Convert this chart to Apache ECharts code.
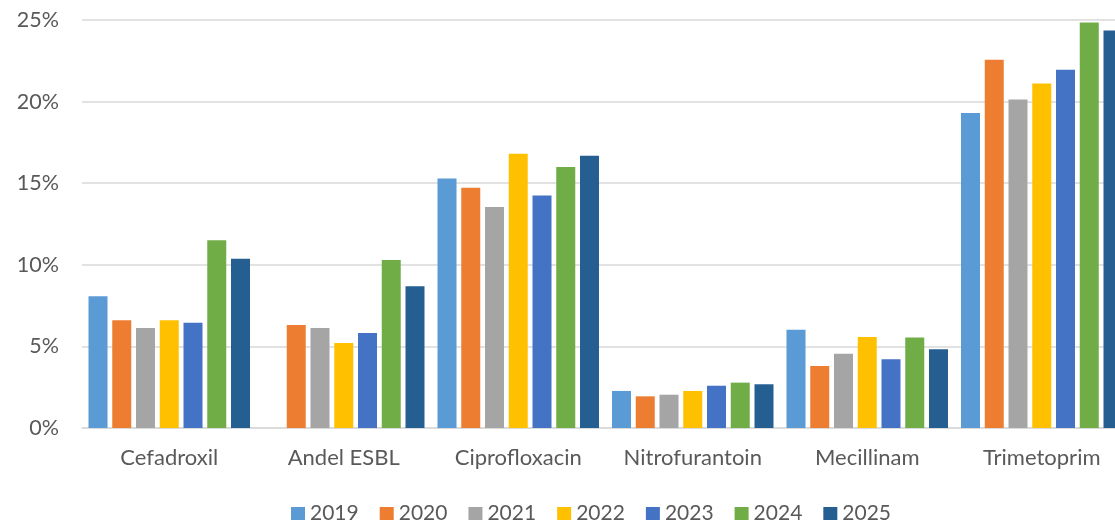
<!DOCTYPE html>
<html>
<head>
<meta charset="utf-8">
<script src="https://cdn.jsdelivr.net/npm/echarts@6/dist/echarts.min.js"></script>
<style>
html,body{margin:0;padding:0;background:#fff;overflow:hidden;}
#chart{width:1140px;height:523px;}
</style>
</head>
<body>
<div id="chart"></div>
<script>
const categories = ['Cefadroxil', 'Andel ESBL', 'Ciprofloxacin', 'Nitrofurantoin', 'Mecillinam', 'Trimetoprim'];
const years = ['2019', '2020', '2021', '2022', '2023', '2024', '2025'];
const v2019 = [8.07, null, 15.29, 2.27, 6.02, 19.30];
const v2020 = [6.60, 6.31, 14.72, 1.94, 3.80, 22.56];
const v2021 = [6.13, 6.13, 13.54, 2.04, 4.55, 20.13];
const v2022 = [6.60, 5.21, 16.81, 2.27, 5.57, 21.11];
const v2023 = [6.45, 5.82, 14.25, 2.59, 4.21, 21.95];
const v2024 = [11.50, 10.29, 15.99, 2.78, 5.55, 24.85];
const v2025 = [10.37, 8.68, 16.68, 2.68, 4.82, 24.36];
const yTicks = [0, 5, 10, 15, 20, 25];
const colors = ['#5B9BD5', '#ED7D31', '#A5A5A5', '#FFC000', '#4472C4', '#70AD47', '#255E91'];
const seriesValues = [v2019, v2020, v2021, v2022, v2023, v2024, v2025];

const font = 'Lato, "Open Sans", sans-serif';
const chart = echarts.init(document.getElementById('chart'), null, {renderer: 'canvas'});
chart.setOption({
  animation: false,
  color: colors,
  textStyle: {fontFamily: font},
  grid: {left: 82, right: 11, top: 20, bottom: 95, containLabel: false},
  legend: {
    data: years,
    top: 498,
    left: 286,
    itemWidth: 14,
    itemHeight: 13,
    itemGap: 21,
    icon: 'rect',
    textStyle: {fontSize: 21, color: '#595959', fontFamily: font}
  },
  xAxis: {
    type: 'category',
    data: categories,
    axisLine: {show: true, lineStyle: {color: '#D9D9D9', width: 1.5}},
    axisTick: {show: false},
    axisLabel: {fontSize: 22, color: '#595959', margin: 19, interval: 0, fontFamily: font}
  },
  yAxis: {
    type: 'value',
    min: yTicks[0],
    max: yTicks[yTicks.length - 1],
    interval: 5,
    axisLine: {show: false},
    axisTick: {show: false},
    splitLine: {lineStyle: {color: '#D9D9D9', width: 1.5}},
    axisLabel: {fontSize: 21.5, color: '#595959', margin: 23, formatter: v => v + '%', fontFamily: font}
  },
  series: years.map((y, i) => ({
    name: y,
    type: 'bar',
    data: seriesValues[i],
    barWidth: 19,
    barGap: '25%',
    itemStyle: {color: colors[i]}
  }))
});
</script>
</body>
</html>
